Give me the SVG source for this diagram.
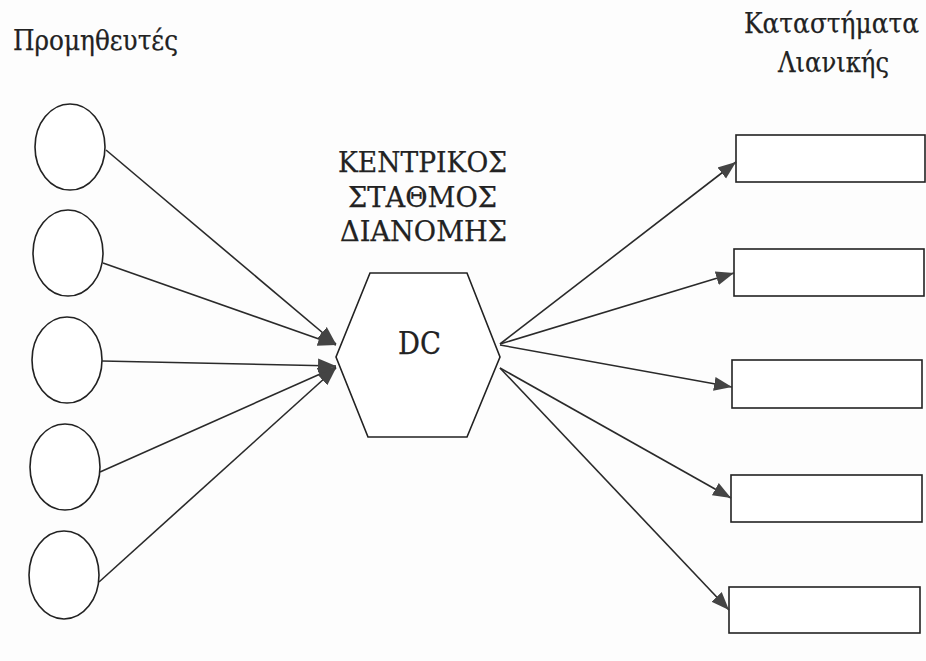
<svg xmlns="http://www.w3.org/2000/svg" width="926" height="661" viewBox="0 0 926 661">
<defs>
<style>
.shape{fill:#fff;stroke:#222;stroke-width:1.6}
.conn{stroke:#2a2a2a;stroke-width:1.6;fill:none;marker-end:url(#ah)}
.lbl{fill:#222;font-family:"DejaVu Serif","Liberation Serif",serif;font-size:27px;stroke:#222;stroke-width:0.25}
</style>
<marker id="ah" markerUnits="userSpaceOnUse" markerWidth="20" markerHeight="16" refX="18" refY="8" orient="auto">
<path d="M0,1 L18,8 L0,15 Z" fill="#444"/>
</marker>
</defs>
<rect width="926" height="661" fill="#fdfdfd"/>
<g id="title-suppliers"><text class="lbl" x="13" y="50" style="font-size:28px" textLength="165" lengthAdjust="spacingAndGlyphs">Προμηθευτές</text></g>
<g id="title-retail">
<text class="lbl" x="744" y="33" style="font-size:28px" textLength="175" lengthAdjust="spacingAndGlyphs">Καταστήματα</text>
<text class="lbl" x="778" y="72" style="font-size:28px" textLength="111" lengthAdjust="spacingAndGlyphs">Λιανικής</text>
</g>
<g id="supplier1"><ellipse class="shape" cx="70" cy="147" rx="35" ry="43"/></g>
<g id="supplier2"><ellipse class="shape" cx="68" cy="253" rx="35" ry="43"/></g>
<g id="supplier3"><ellipse class="shape" cx="67" cy="360" rx="35" ry="43"/></g>
<g id="supplier4"><ellipse class="shape" cx="65" cy="467" rx="35" ry="43"/></g>
<g id="supplier5"><ellipse class="shape" cx="64" cy="575" rx="35" ry="44"/></g>
<g id="dc">
<text class="lbl" x="338" y="172" textLength="169" lengthAdjust="spacingAndGlyphs">ΚΕΝΤΡΙΚΟΣ</text>
<text class="lbl" x="348" y="207" textLength="149" lengthAdjust="spacingAndGlyphs">ΣΤΑΘΜΟΣ</text>
<text class="lbl" x="340" y="241" textLength="167" lengthAdjust="spacingAndGlyphs">ΔΙΑΝΟΜΗΣ</text>
<polygon class="shape" points="370,273 467,273 500,357 467,437 368,437 336,357"/>
<text class="lbl" x="398" y="354" style="font-size:31px" textLength="43" lengthAdjust="spacingAndGlyphs">DC</text>
</g>
<g id="store1"><rect class="shape" x="736" y="135" width="189" height="47"/></g>
<g id="store2"><rect class="shape" x="734" y="249" width="190" height="47"/></g>
<g id="store3"><rect class="shape" x="732" y="360" width="190" height="48"/></g>
<g id="store4"><rect class="shape" x="731" y="475" width="191" height="47"/></g>
<g id="store5"><rect class="shape" x="729" y="587" width="191" height="46"/></g>
<g id="connectors">
<line class="conn" x1="106" y1="150" x2="336" y2="344"/>
<line class="conn" x1="103" y1="263" x2="336" y2="345"/>
<line class="conn" x1="102" y1="361" x2="336" y2="366"/>
<line class="conn" x1="100" y1="472" x2="336" y2="367"/>
<line class="conn" x1="99" y1="582" x2="336" y2="368"/>
<line class="conn" x1="500" y1="344" x2="736" y2="162"/>
<line class="conn" x1="500" y1="344" x2="734" y2="273"/>
<line class="conn" x1="500" y1="345" x2="732" y2="387"/>
<line class="conn" x1="500" y1="368" x2="731" y2="498"/>
<line class="conn" x1="500" y1="368" x2="729" y2="610"/>
</g>
</svg>
